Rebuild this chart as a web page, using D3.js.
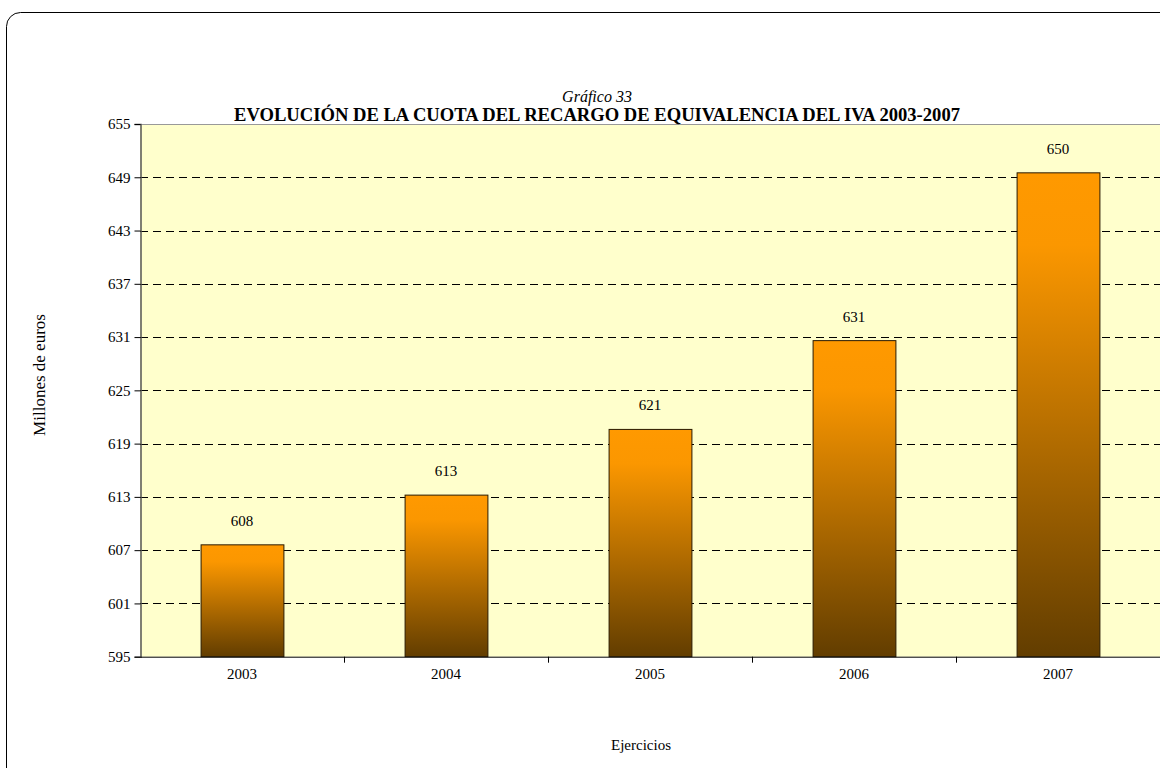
<!DOCTYPE html>
<html><head><meta charset="utf-8">
<script src="https://cdn.jsdelivr.net/npm/d3@7"></script>
<style>body{margin:0;background:#fff}svg{display:block;font-family:"Liberation Serif","Times New Roman",serif}</style>
</head><body>
<svg id="c" width="1160" height="768"></svg>
<script>
const categories = ["2003","2004","2005","2006","2007"];
const values = [607.6, 613.2, 620.6, 630.6, 649.5];
const labels = ["608","613","621","631","650"];
const yTicks = [595,601,607,613,619,625,631,637,643,649,655];

const svg = d3.select("#c");
// frame
svg.append("rect").attr("x",6.5).attr("y",12.5).attr("width",1180).attr("height",800)
  .attr("rx",14).attr("fill","#fff").attr("stroke","#000").attr("stroke-width",1);

const L=140, R=1160, T=124, B=656.7;
const x = d3.scaleBand().domain(categories).range([L,R]).paddingInner(0.594).paddingOuter(0.297);
const xb = d3.scaleBand().domain(categories).range([L,R]);
const y = d3.scaleLinear().domain([595,655]).range([B,T]);

const defs = svg.append("defs");
const g = defs.append("linearGradient").attr("id","bg").attr("x1",0).attr("y1",0).attr("x2",0).attr("y2",1);
g.append("stop").attr("offset","0%").attr("stop-color","#FF9900");
g.append("stop").attr("offset","15%").attr("stop-color","#FB9700");
g.append("stop").attr("offset","100%").attr("stop-color","#623D00");

svg.append("rect").attr("x",L).attr("y",T).attr("width",R-L).attr("height",B-T).attr("fill","#FFFFCC");

// gridlines
svg.append("g").selectAll("line").data(yTicks.filter(t=>t>595 && t<655)).join("line")
  .attr("x1",L).attr("x2",R).attr("y1",d=>Math.round(y(d))+0.5).attr("y2",d=>Math.round(y(d))+0.5)
  .attr("stroke","#000").attr("stroke-dasharray","8,5");
svg.append("line").attr("x1",L).attr("x2",R).attr("y1",Math.round(y(655))+0.5).attr("y2",Math.round(y(655))+0.5)
  .attr("stroke","#999");

// bars
svg.append("g").selectAll("rect").data(values).join("rect")
  .attr("x",(d,i)=>x(categories[i])+0.5).attr("width",x.bandwidth())
  .attr("y",d=>y(d)).attr("height",d=>B-y(d))
  .attr("fill","url(#bg)").attr("stroke","#2a1a00").attr("stroke-width",1);

svg.append("g").selectAll("text").data(values).join("text")
  .attr("x",(d,i)=>x(categories[i])+x.bandwidth()/2).attr("y",d=>y(d)-19)
  .attr("text-anchor","middle").attr("font-size",15).attr("fill","#000")
  .text((d,i)=>labels[i]);

// y axis
const ya = svg.append("g").attr("transform",`translate(${L+0.5},0)`)
  .call(d3.axisLeft(y).tickValues(yTicks).tickSize(6).tickPadding(4).tickFormat(d3.format("d")));
ya.select(".domain").attr("stroke","#555").attr("stroke-width",1.5);
ya.selectAll("text").attr("font-size",15).attr("font-family","Liberation Serif").attr("fill","#000");
ya.selectAll(".tick line").attr("stroke","#000");

// x axis
const xa = svg.append("g").attr("transform",`translate(0,${B})`)
  .call(d3.axisBottom(xb).tickSize(0).tickPadding(12));
xa.select(".domain").attr("stroke","#000");
xa.selectAll("text").attr("font-size",15).attr("font-family","Liberation Serif").attr("fill","#000");
svg.append("g").selectAll("line").data(categories).join("line")
  .attr("x1",d=>Math.round(xb(d)+xb.bandwidth())+0.5).attr("x2",d=>Math.round(xb(d)+xb.bandwidth())+0.5)
  .attr("y1",B).attr("y2",B+6).attr("stroke","#000");

// titles
svg.append("text").attr("x",597).attr("y",102).attr("text-anchor","middle").attr("font-size",16)
  .attr("font-style","italic").text("Gráfico 33");
svg.append("text").attr("x",597).attr("y",121).attr("text-anchor","middle").attr("font-size",18.6)
  .attr("font-weight","bold").text("EVOLUCIÓN DE LA CUOTA DEL RECARGO DE EQUIVALENCIA DEL IVA 2003-2007");
svg.append("text").attr("transform","translate(45,375) rotate(-90)").attr("text-anchor","middle")
  .attr("font-size",17).text("Millones de euros");
svg.append("text").attr("x",641).attr("y",750).attr("text-anchor","middle").attr("font-size",15).text("Ejercicios");
</script>
</body></html>
